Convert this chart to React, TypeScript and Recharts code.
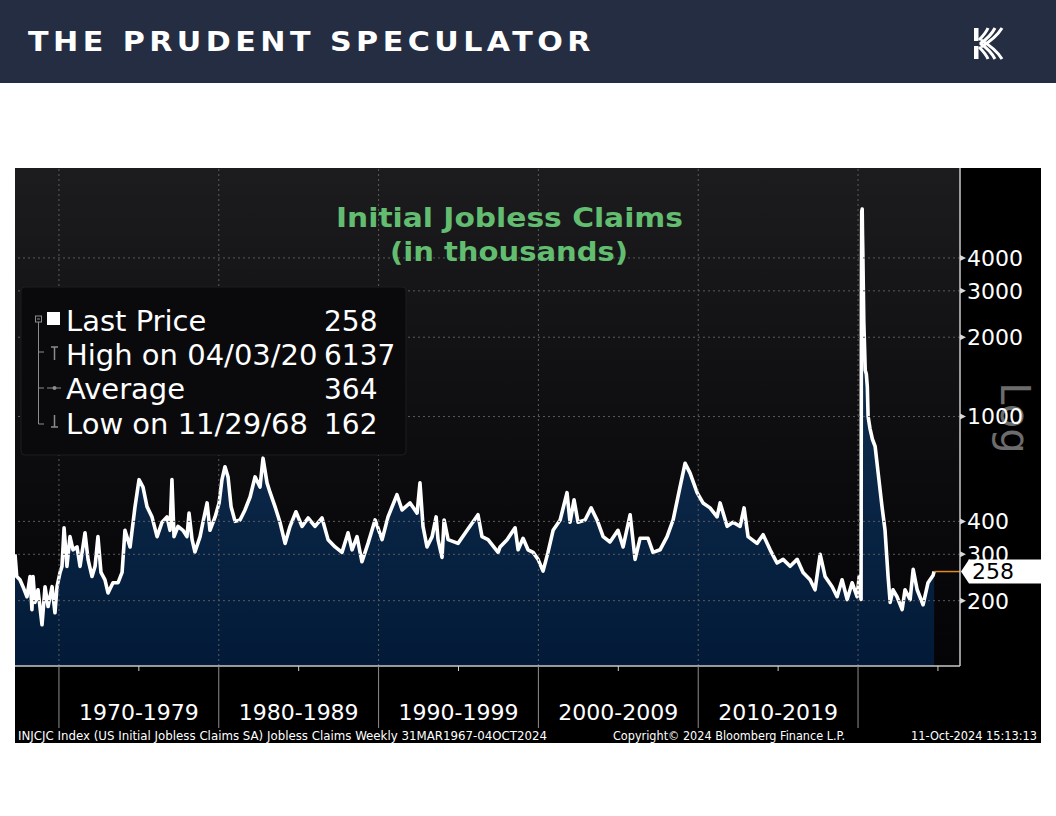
import { Area, ComposedChart, ReferenceLine, XAxis, YAxis } from "recharts";

// weekly initial claims (thousands)
const weeks = [
  1967.25, 1967.36, 1967.56, 1967.75, 1968.0, 1968.19, 1968.31, 1968.38,
  1968.5, 1968.69, 1968.94, 1969.13, 1969.32, 1969.57, 1969.75, 1969.88,
  1970.07, 1970.19, 1970.32, 1970.5, 1970.69, 1970.88, 1971.13, 1971.32,
  1971.63, 1971.82, 1972.07, 1972.26, 1972.44, 1972.63, 1972.88, 1973.07,
  1973.38, 1973.7, 1973.95, 1974.13, 1974.45, 1974.76, 1975.01, 1975.26,
  1975.51, 1975.82, 1976.14, 1976.45, 1976.76, 1976.95, 1977.07, 1977.2,
  1977.45, 1977.76, 1978.01, 1978.14, 1978.33, 1978.51, 1978.83, 1979.01,
  1979.27, 1979.45, 1979.77, 1980.02, 1980.2, 1980.39, 1980.58, 1980.77,
  1981.02, 1981.33, 1981.64, 1981.96, 1982.27, 1982.58, 1982.77, 1983.02,
  1983.21, 1983.52, 1983.83, 1984.15, 1984.46, 1984.83, 1985.21, 1985.59,
  1986.02, 1986.46, 1986.84, 1987.28, 1987.71, 1988.09, 1988.34, 1988.65,
  1988.96, 1989.34, 1989.78, 1990.22, 1990.59, 1991.15, 1991.47, 1991.97,
  1992.41, 1992.59, 1992.78, 1993.03, 1993.35, 1993.6, 1993.72, 1993.97,
  1994.1, 1994.35, 1994.97, 1995.54, 1996.22, 1996.47, 1996.85, 1997.48,
  1997.6, 1998.04, 1998.54, 1998.73, 1999.04, 1999.35, 1999.67, 1999.98,
  2000.29, 2000.6, 2000.92, 2001.36, 2001.79, 2001.98, 2002.23, 2002.48,
  2002.92, 2003.3, 2003.67, 2004.05, 2004.48, 2004.98, 2005.3, 2005.74,
  2006.05, 2006.36, 2006.86, 2007.17, 2007.61, 2008.05, 2008.43, 2008.86,
  2009.18, 2009.49, 2009.93, 2010.3, 2010.74, 2011.18, 2011.37, 2011.81,
  2012.18, 2012.62, 2012.87, 2013.12, 2013.68, 2014.06, 2014.5, 2014.93,
  2015.31, 2015.75, 2016.19, 2016.56, 2017.0, 2017.31, 2017.63, 2017.94,
  2018.38, 2018.69, 2019.0, 2019.32, 2019.63, 2019.94, 2020.07, 2020.19,
  2020.21, 2020.23, 2020.26, 2020.28, 2020.3, 2020.32, 2020.34, 2020.36,
  2020.4, 2020.45, 2020.52, 2020.58, 2020.63, 2020.75, 2020.9, 2021.07,
  2021.26, 2021.5, 2021.69, 2021.88, 2022.01, 2022.19, 2022.44, 2022.76,
  2022.94, 2023.26, 2023.45, 2023.7, 2024.07, 2024.38, 2024.7, 2024.76,
];

const claims = [
  300, 247, 240, 226, 207, 247, 185, 247,
  197, 220, 162, 226, 190, 226, 180, 226,
  256, 270, 378, 270, 350, 312, 320, 270,
  362, 287, 247, 270, 350, 256, 240, 214,
  234, 234, 256, 370, 320, 455, 576, 540,
  455, 416, 350, 397, 416, 370, 576, 350,
  383, 370, 350, 430, 341, 306, 350, 397,
  470, 370, 416, 470, 576, 645, 590, 455,
  400, 405, 442, 495, 590, 540, 695, 560,
  515, 455, 397, 330, 383, 435, 383, 412,
  383, 412, 341, 320, 305, 362, 312, 350,
  281, 330, 405, 341, 416, 505, 442, 470,
  430, 560, 383, 320, 350, 416, 341, 292,
  405, 341, 330, 370, 424, 350, 341, 305,
  320, 341, 378, 312, 345, 312, 305, 287,
  259, 305, 370, 405, 514, 397, 483, 397,
  405, 450, 405, 350, 334, 370, 320, 424,
  287, 345, 345, 305, 312, 350, 405, 540,
  665, 610, 514, 470, 450, 416, 470, 383,
  397, 383, 450, 350, 330, 356, 312, 278,
  287, 270, 287, 256, 240, 220, 300, 247,
  226, 207, 240, 202, 234, 207, 247, 202,
  2900, 6000, 6137, 4900, 4200, 3400, 2800, 2300,
  1900, 1500, 1450, 1300, 1000, 900, 820, 770,
  610, 455, 370, 247, 197, 220, 207, 185,
  220, 202, 263, 220, 193, 234, 250, 258,
];

const decadeStarts = [1970, 1980, 1990, 2000, 2010, 2020];
const halfDecades = [1975, 1985, 1995, 2005, 2015, 2025];
const decadeLabels = ["1970-1979", "1980-1989", "1990-1999", "2000-2009", "2010-2019"];
const yTicks = [200, 300, 400, 1000, 2000, 3000, 4000];
const lastPrice = 258;
const lastWeek = 2024.76;
const legendLabels = ["Last Price", "High on 04/03/20", "Average", "Low on 11/29/68"];
const legendValues = ["258", "6137", "364", "162"];

const X_DOMAIN: [number, number] = [1967.25, 2026.38];
const Y_DOMAIN: [number, number] = [113, 8780];

const data = weeks.map((t, i) => ({ t, claims: claims[i] }));

const FONT = "'DejaVu Sans', Verdana, sans-serif";
const GRID = "#5b5b5f";

function DecadeTick(props: any) {
  const { x, y, payload } = props;
  const v = payload.value;
  if (decadeStarts.includes(v)) {
    return <line x1={x} x2={x} y1={y} y2={y + 62} stroke="#8e8e8e" strokeWidth={1} />;
  }
  const label = decadeLabels[halfDecades.indexOf(v)];
  return (
    <g>
      <line x1={x} x2={x} y1={y} y2={y + 5} stroke="#d0d0d0" strokeWidth={1} />
      {label && (
        <text x={x} y={y + 54} textAnchor="middle" fill="#ffffff" fontSize={22} fontFamily={FONT}>
          {label}
        </text>
      )}
    </g>
  );
}

function PriceTick(props: any) {
  const { x, y, payload } = props;
  if (payload.value === lastPrice) {
    return (
      <g>
        <path d={`M${x + 1} ${y} L${x + 9} ${y - 12} H${x + 81} V${y + 12} H${x + 9} Z`} fill="#ffffff" />
        <text x={x + 12} y={y} dy="0.36em" fill="#000000" fontSize={22} fontFamily={FONT}>
          {payload.value}
        </text>
      </g>
    );
  }
  return (
    <g>
      <path d={`M${x} ${y - 3} L${x + 6} ${y} L${x} ${y + 3} Z`} fill="#d8d8d8" />
      <text x={x + 7} y={y} dy="0.36em" fill="#ffffff" fontSize={22} fontFamily={FONT}>
        {payload.value}
      </text>
    </g>
  );
}

function Logo() {
  return (
    <g fill="none" stroke="#ffffff" strokeWidth={3}>
      <rect x={974} y={28} width={4.5} height={13} fill="#ffffff" stroke="none" />
      <rect x={974} y={46} width={4.5} height={13} fill="#ffffff" stroke="none" />
      <path d="M979 40 Q986 33 988 28" />
      <path d="M980 44 Q991 36 995 28" />
      <path d="M981 47 Q996 38 1002 28" />
      <path d="M979 47 Q986 54 988 59" />
      <path d="M980 43 Q991 51 995 59" />
      <path d="M981 40 Q996 49 1002 59" />
    </g>
  );
}

function LegendBox() {
  const rows = [331, 365, 399, 434];
  const icon = "#8c8c8c";
  return (
    <g fontFamily={FONT}>
      <rect x={21} y={287} width={385} height={168} rx={4} fill="#0a0a0d" stroke="#1d1d22" />
      <rect x={35.5} y={316} width={6} height={6} fill="none" stroke={icon} />
      <line x1={37} x2={40} y1={319} y2={319} stroke={icon} />
      <line x1={38.5} x2={38.5} y1={322} y2={424} stroke={icon} />
      <line x1={38.5} x2={44} y1={352} y2={352} stroke={icon} />
      <line x1={38.5} x2={44} y1={388} y2={388} stroke={icon} />
      <line x1={38.5} x2={44} y1={424} y2={424} stroke={icon} />
      <rect x={47} y={312} width={13} height={13} fill="#ffffff" />
      <line x1={51} x2={58} y1={347} y2={347} stroke={icon} strokeWidth={1.5} />
      <line x1={54.5} x2={54.5} y1={347} y2={360} stroke={icon} strokeWidth={1.5} />
      <line x1={47} x2={61} y1={388} y2={388} stroke={icon} />
      <circle cx={54.5} cy={388} r={2} fill={icon} />
      <line x1={54.5} x2={54.5} y1={415} y2={427} stroke={icon} strokeWidth={1.5} />
      <line x1={51} x2={58} y1={427} y2={427} stroke={icon} strokeWidth={1.5} />
      {legendLabels.map((label, i) => (
        <text key={label} x={66} y={rows[i]} fill="#ffffff" fontSize={29}>
          {label}
        </text>
      ))}
      {legendValues.map((value, i) => (
        <text key={value} x={324} y={rows[i]} fill="#ffffff" fontSize={28}>
          {value}
        </text>
      ))}
    </g>
  );
}

export default function App() {
  return (
    <div
      style={{
        position: "absolute",
        left: 0,
        top: 0,
        width: 1056,
        height: 816,
        background: "#ffffff",
        overflow: "hidden",
        fontFamily: FONT,
      }}
    >
      <div style={{ position: "absolute", left: 0, top: 0, width: 1056, height: 83, background: "#252d42" }} />

      <div style={{ position: "absolute", left: 15, top: 168, width: 1026, height: 575, background: "#000000" }}>
        <div
          style={{
            position: "absolute",
            left: 0,
            top: 0,
            width: 945,
            height: 498,
            background: "linear-gradient(to bottom, #1c1c1f 0%, #0c0c0f 60%, #040406 100%)",
          }}
        />
        <svg width={1026} height={575} style={{ position: "absolute", left: 0, top: 0 }}>
          <text
            transform="translate(986 250) rotate(90)"
            textAnchor="middle"
            fill="#6c6c6c"
            fontSize={40}
            fontFamily={FONT}
          >
            Log
          </text>
        </svg>
        <ComposedChart width={1026} height={575} data={data} margin={{ top: 0, right: 0, bottom: 0, left: 0 }}>
          <defs>
            <linearGradient id="navyFill" x1="0" y1="280" x2="0" y2="498" gradientUnits="userSpaceOnUse">
              <stop offset="0%" stopColor="#0c2849" />
              <stop offset="100%" stopColor="#021a37" />
            </linearGradient>
          </defs>
          <XAxis
            type="number"
            dataKey="t"
            domain={X_DOMAIN}
            allowDataOverflow
            ticks={[...decadeStarts, ...halfDecades]}
            interval={0}
            height={77}
            tickSize={0}
            tickMargin={0}
            tickLine={false}
            axisLine={{ stroke: "#c8c8c8", strokeWidth: 1.5 }}
            tick={DecadeTick}
          />
          <YAxis
            orientation="right"
            type="number"
            scale="log"
            domain={Y_DOMAIN}
            allowDataOverflow
            ticks={[...yTicks, lastPrice]}
            interval={0}
            width={81}
            tickSize={0}
            tickMargin={0}
            tickLine={false}
            axisLine={{ stroke: "#c8c8c8", strokeWidth: 1.5 }}
            tick={PriceTick}
          />
          <Area
            type="linear"
            dataKey="claims"
            stroke="#ffffff"
            strokeWidth={3.6}
            strokeLinejoin="round"
            fill="url(#navyFill)"
            fillOpacity={1}
            dot={false}
            activeDot={false}
            isAnimationActive={false}
          />
          {decadeStarts.map((d) => (
            <ReferenceLine key={`v${d}`} x={d} stroke={GRID} strokeDasharray="2 3" />
          ))}
          {yTicks.map((v) => (
            <ReferenceLine key={`h${v}`} y={v} stroke={GRID} strokeDasharray="2 3" />
          ))}
          <ReferenceLine
            segment={[
              { x: lastWeek, y: lastPrice },
              { x: X_DOMAIN[1], y: lastPrice },
            ]}
            stroke="#e38a1d"
            strokeWidth={1.5}
            ifOverflow="visible"
          />
        </ComposedChart>
      </div>

      <svg width={1056} height={816} style={{ position: "absolute", left: 0, top: 0, pointerEvents: "none" }}>
        <text
          x={28}
          y={51}
          fill="#ffffff"
          fontSize={27}
          fontWeight="bold"
          fontFamily="'DejaVu Sans', sans-serif"
          letterSpacing={4}
          textLength={567}
          lengthAdjust="spacingAndGlyphs"
        >
          THE PRUDENT SPECULATOR
        </text>
        <Logo />

        <g fill="#63bd70" fontFamily={FONT} fontWeight="bold" fontSize={26}>
          <text x={336} y={227} textLength={347} lengthAdjust="spacingAndGlyphs">
            Initial Jobless Claims
          </text>
          <text x={390} y={261} textLength={238} lengthAdjust="spacingAndGlyphs">
            (in thousands)
          </text>
        </g>

        <LegendBox />

        <g fill="#ffffff" fontSize={13} fontFamily="'DejaVu Sans Condensed', 'Liberation Sans Narrow', sans-serif">
          <text x={18} y={740} textLength={529} lengthAdjust="spacingAndGlyphs">
            INJCJC Index (US Initial Jobless Claims SA) Jobless Claims  Weekly 31MAR1967-04OCT2024
          </text>
          <text x={613} y={740} textLength={232} lengthAdjust="spacingAndGlyphs">
            Copyright© 2024 Bloomberg Finance L.P.
          </text>
          <text x={911} y={740} textLength={126} lengthAdjust="spacingAndGlyphs">
            11-Oct-2024 15:13:13
          </text>
        </g>
      </svg>
    </div>
  );
}
